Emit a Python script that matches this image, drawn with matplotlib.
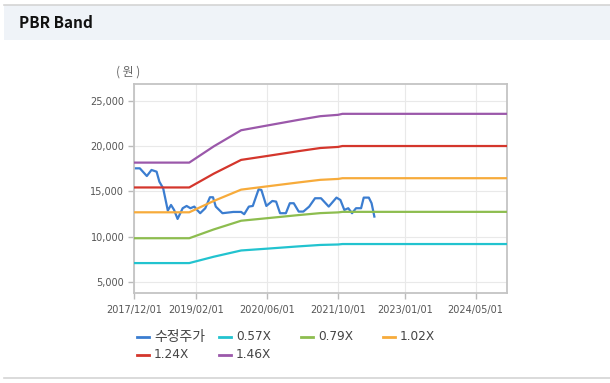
import matplotlib.pyplot as plt
import matplotlib.dates as mdates
from matplotlib.lines import Line2D
from matplotlib.patches import Rectangle
from matplotlib.ticker import FuncFormatter
import pandas as pd

# adjusted close (수정주가)
price_dates = ['2017-12-01', '2018-01-10', '2018-02-27', '2018-03-31', '2018-05-05',
               '2018-05-24', '2018-06-19', '2018-07-21', '2018-08-12', '2018-09-02',
               '2018-09-26', '2018-10-31', '2018-11-27', '2018-12-23', '2019-01-19',
               '2019-02-02', '2019-02-28', '2019-04-04', '2019-05-06', '2019-05-27',
               '2019-06-15', '2019-07-31', '2019-10-13', '2019-12-06', '2019-12-27',
               '2020-01-28', '2020-02-24', '2020-04-04', '2020-04-23', '2020-05-27',
               '2020-07-07', '2020-08-02', '2020-08-29', '2020-10-08', '2020-11-04',
               '2020-12-01', '2021-01-04', '2021-02-05', '2021-03-17', '2021-04-26',
               '2021-06-06', '2021-07-29', '2021-09-20', '2021-10-17', '2021-11-13',
               '2021-12-10', '2022-01-05', '2022-02-01', '2022-03-08', '2022-03-26',
               '2022-04-30', '2022-05-19', '2022-06-07']
price = [17550, 17550, 16700, 17370, 17180, 16080, 15350, 12890, 13510, 12960,
         11970, 13150, 13400, 13150, 13330, 13040, 12600, 13150, 14360, 14360,
         13330, 12600, 12740, 12740, 12490, 13330, 13400, 15240, 15160, 13400,
         13950, 13880, 12600, 12600, 13700, 13700, 12780, 12780, 13330, 14250,
         14250, 13330, 14320, 14060, 12960, 13150, 12600, 13150, 13150, 14320,
         14320, 13700, 12230]

# PBR band lines
band_dates = ['2017-12-01', '2018-12-15', '2019-06-01', '2019-12-06', '2020-06-01',
              '2021-01-01', '2021-06-01', '2021-10-01', '2021-10-31', '2024-12-01']
band_057 = [7100, 7100, 7800, 8490, 8690, 8940, 9100, 9150, 9200, 9200]
band_079 = [9840, 9840, 10810, 11770, 12050, 12390, 12610, 12690, 12750, 12750]
band_102 = [12700, 12700, 13950, 15200, 15560, 15990, 16280, 16380, 16460, 16460]
band_124 = [15440, 15440, 16960, 18480, 18910, 19440, 19790, 19910, 20010, 20010]
band_146 = [18180, 18180, 19970, 21750, 22270, 22890, 23300, 23450, 23560, 23560]

labels = ['수정주가', '0.57X', '0.79X', '1.02X', '1.24X', '1.46X']
colors = ['#3b7dd0', '#22c3cf', '#8dbd4f', '#f7ab3b', '#d4362c', '#9b58aa']

xtick_dates = ['2017-12-01', '2019-02-01', '2020-06-01', '2021-10-01', '2023-01-01', '2024-05-01']
yticks = [5000, 10000, 15000, 20000, 25000]

W, H = 610, 383
fig = plt.figure(figsize=(W / 100, H / 100), dpi=100)
fig.patch.set_facecolor('white')

def fx(px):
    return px / W

def fy(py):
    return 1 - py / H

# header strip
fig.add_artist(Rectangle((fx(4), fy(40)), 1 - fx(4), 35 / H, transform=fig.transFigure,
                         facecolor='#eff3f8', edgecolor='none', zorder=0))
fig.add_artist(Line2D([fx(4), 1], [fy(4.5), fy(4.5)], color='#d4d4d4', lw=1.2))
fig.add_artist(Line2D([fx(4), 1], [fy(378), fy(378)], color='#d4d4d4', lw=1.2))
fig.text(fx(19), fy(23.5), 'PBR Band', fontsize=11, fontweight='bold',
         family=['Noto Sans CJK KR', 'DejaVu Sans'], va='center', ha='left', color='#111111')
fig.text(fx(128), fy(72), '( 원 )', fontsize=8.6, family=['Noto Sans CJK KR', 'DejaVu Sans'],
         va='center', ha='center', color='#666666')

ax = fig.add_axes([fx(134), fy(293), 373 / W, 209 / H])

pd_price = pd.to_datetime(price_dates)
pd_band = pd.to_datetime(band_dates)
ax.plot(pd_price, price, color=colors[0], lw=1.6, zorder=2)
for vals, c in zip([band_057, band_079, band_102, band_124, band_146], colors[1:]):
    ax.plot(pd_band, vals, color=c, lw=1.6, zorder=3)

ax.set_xlim(pd.Timestamp('2017-12-01'), pd.Timestamp('2024-12-03'))
ax.set_ylim(3800, 26850)
ax.set_xticks(pd.to_datetime(xtick_dates))
ax.xaxis.set_major_formatter(mdates.DateFormatter('%Y/%m/%d'))
ax.set_yticks(yticks)
ax.yaxis.set_major_formatter(FuncFormatter(lambda v, p: f'{v:,.0f}'))
ax.grid(True, color='#e9e9e9', lw=0.8, zorder=0)
ax.set_axisbelow(True)
for s in ax.spines.values():
    s.set_color('#c4c4c4')
    s.set_linewidth(1.3)
ax.tick_params(axis='both', labelsize=7, labelcolor='#555555', color='#bbbbbb',
               length=4, width=1)
ax.tick_params(axis='y', pad=3)
ax.tick_params(axis='x', pad=5)

# legend laid out as in the original (fixed item width)
for i, (lab, c) in enumerate(zip(labels, colors)):
    col, row = i % 4, i // 4
    x0 = 137 + 82 * col
    y0 = 337 + 17.5 * row
    fig.add_artist(Line2D([fx(x0), fx(x0 + 12)], [fy(y0), fy(y0)], color=c, lw=2))
    size = 10 if i == 0 else 8.7
    fig.text(fx(x0 + 17), fy(y0), lab, fontsize=size, color='#444444',
             family=['DejaVu Sans', 'Noto Sans CJK KR'], va='center', ha='left')

fig.savefig('out.png', dpi=100)
